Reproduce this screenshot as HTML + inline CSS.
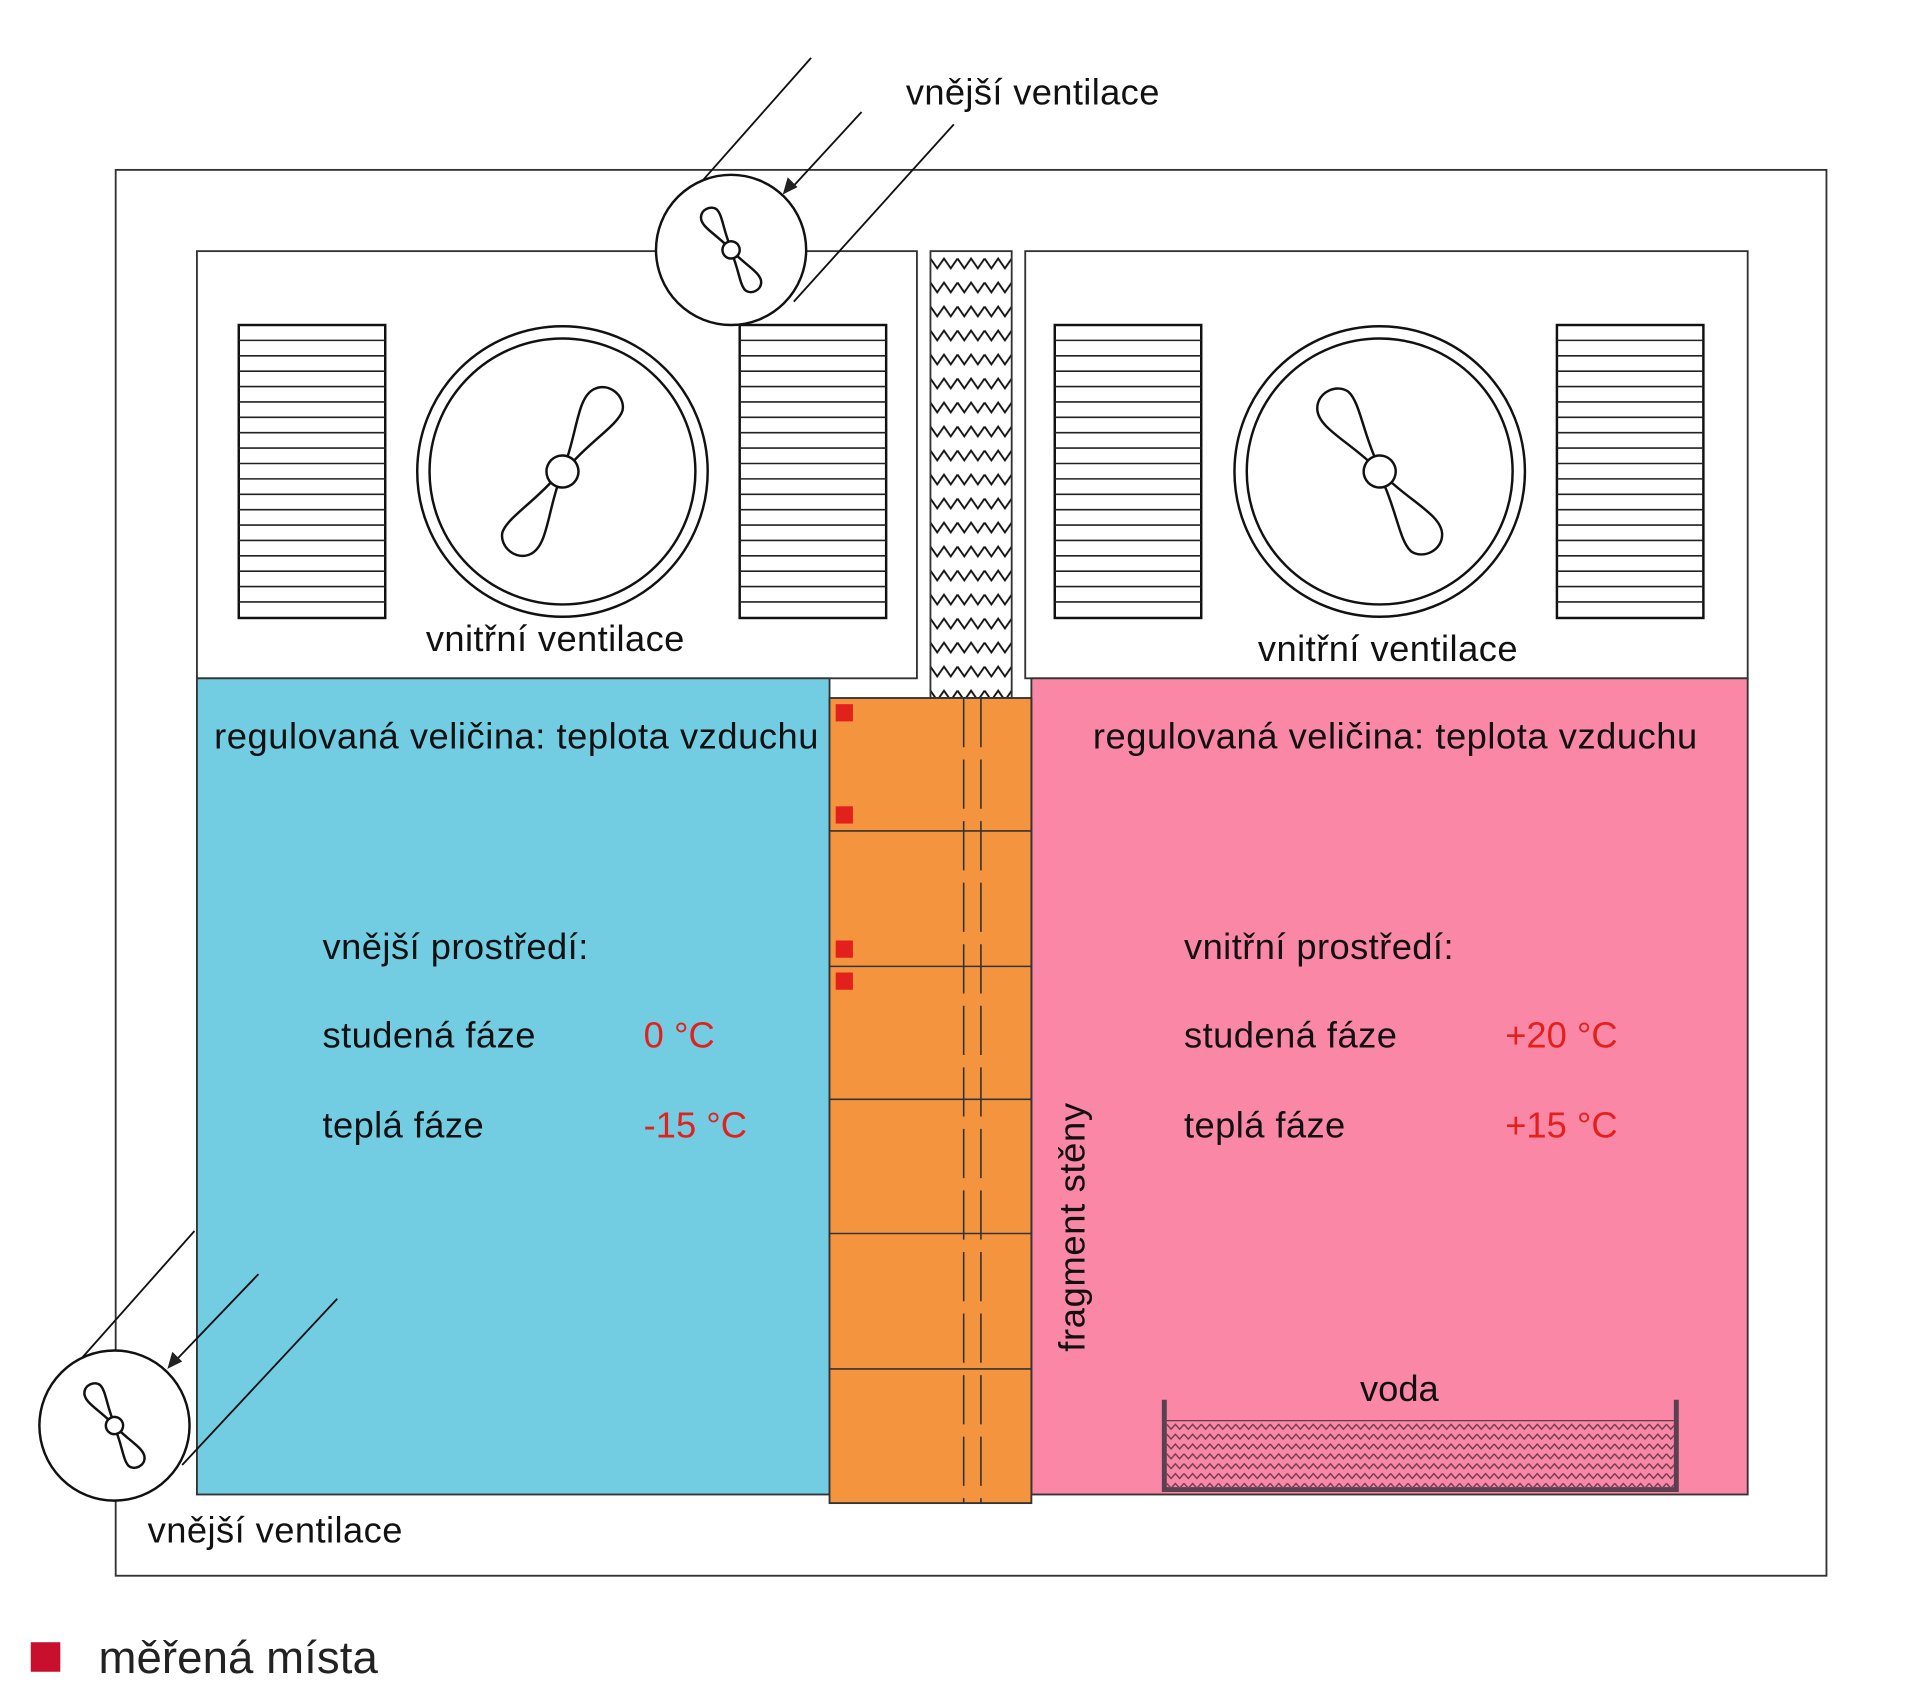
<!DOCTYPE html>
<html><head><meta charset="utf-8"><style>
html,body{margin:0;padding:0;background:#fff}
svg{display:block}
text{font-family:"Liberation Sans",sans-serif}
</style></head><body>
<svg width="1920" height="1689" viewBox="0 0 1560 1372" preserveAspectRatio="none" xmlns="http://www.w3.org/2000/svg">
<defs>
<pattern id="zz" x="756" y="204" width="22" height="19.5" patternUnits="userSpaceOnUse">
<path d="M0,6 L5.5,14 L11,6 L16.5,14 L22,6" fill="none" stroke="#111" stroke-width="1.5"/>
</pattern>
<pattern id="wz" x="948" y="1155" width="14" height="8" patternUnits="userSpaceOnUse">
<path d="M0,2 L3.5,6 L7,2 L10.5,6 L14,2" fill="none" stroke="#6a3a4a" stroke-width="1.1"/>
</pattern>
<path id="blade" d="M-3,-12 C-10,-38 -22,-58 -15,-70 C-8,-82 10,-79 14,-68 C17,-57 7,-36 3,-12 Z" fill="#fff" stroke="#111" stroke-width="2"/>
<path id="sblade" d="M-1.5,-6 C-5,-19 -11,-29 -7.5,-35 C-4,-41 5,-39.5 7,-34 C8.5,-28.5 3.5,-18 1.5,-6 Z" fill="#fff" stroke="#111" stroke-width="2"/>
<g id="lv">
<rect x="0" y="0" width="119" height="238" fill="#fff" stroke="#111" stroke-width="2"/>
<path d="M0,12.5H119M0,25H119M0,37.5H119M0,50H119M0,62.5H119M0,75H119M0,87.5H119M0,100H119M0,112.5H119M0,125H119M0,137.5H119M0,150H119M0,162.5H119M0,175H119M0,187.5H119M0,200H119M0,212.5H119M0,225H119" stroke="#222" stroke-width="1.3"/>
</g>
</defs>
<rect x="94" y="138" width="1390" height="1142" fill="#fff" stroke="#333" stroke-width="1.5"/>
<rect x="160" y="204" width="585" height="347" fill="#fff" stroke="#333" stroke-width="1.5"/>
<rect x="833" y="204" width="587" height="347" fill="#fff" stroke="#333" stroke-width="1.5"/>
<rect x="756" y="204" width="66" height="363" fill="url(#zz)" stroke="#333" stroke-width="1.5"/>
<rect x="160" y="551" width="514" height="663" fill="#72cde3" stroke="#333" stroke-width="1.5"/>
<rect x="838" y="551" width="582" height="663" fill="#f987a5" stroke="#333" stroke-width="1.5"/>
<rect x="674" y="567" width="164" height="654" fill="#f5943f" stroke="#333" stroke-width="1.5"/>
<path d="M674,675H838M674,785H838M674,893H838M674,1002H838M674,1112H838" stroke="#333" stroke-width="1.3"/>
<path d="M783,567V1221M797,567V1221" stroke="#333" stroke-width="1.3" stroke-dasharray="40,10"/>
<g fill="#e3211c"><rect x="679" y="572" width="14" height="14"/><rect x="679" y="655" width="14" height="14"/><rect x="679" y="764" width="14" height="14"/><rect x="679" y="790" width="14" height="14"/></g>
<use href="#lv" x="194" y="264"/><use href="#lv" x="601" y="264"/><use href="#lv" x="857" y="264"/><use href="#lv" x="1265" y="264"/>
<circle cx="457" cy="383" r="118" fill="#fff" stroke="#111" stroke-width="2"/>
<circle cx="457" cy="383" r="108" fill="none" stroke="#111" stroke-width="2"/>
<g transform="translate(457,383) rotate(33)"><use href="#blade"/><use href="#blade" transform="rotate(180)"/><circle r="13" fill="#fff" stroke="#111" stroke-width="2"/></g>
<circle cx="1121" cy="383" r="118" fill="#fff" stroke="#111" stroke-width="2"/>
<circle cx="1121" cy="383" r="108" fill="none" stroke="#111" stroke-width="2"/>
<g transform="translate(1121,383) rotate(-33)"><use href="#blade"/><use href="#blade" transform="rotate(180)"/><circle r="13" fill="#fff" stroke="#111" stroke-width="2"/></g>
<path d="M659,47L552,168M700,91L642,154M775,101L645,245" stroke="#111" stroke-width="1.5" fill="none"/>
<circle cx="594" cy="203" r="61" fill="#fff" stroke="#111" stroke-width="2"/>
<g transform="translate(594,203) rotate(-31)"><use href="#sblade"/><use href="#sblade" transform="rotate(180)"/><circle r="7" fill="#fff" stroke="#111" stroke-width="2"/></g>
<path d="M636,158l4,-14l8,8z" fill="#222"/>
<path d="M158,1000L64,1106M210,1035L142,1106M274,1055L148,1190" stroke="#111" stroke-width="1.5" fill="none"/>
<circle cx="93" cy="1158" r="61" fill="#fff" stroke="#111" stroke-width="2"/>
<g transform="translate(93,1158) rotate(-31)"><use href="#sblade"/><use href="#sblade" transform="rotate(180)"/><circle r="7" fill="#fff" stroke="#111" stroke-width="2"/></g>
<path d="M136,1112l4,-14l8,8z" fill="#222"/>
<rect x="948" y="1154" width="412" height="54" fill="url(#wz)"/>
<path d="M946,1137V1210H1362V1137" fill="none" stroke="#5a4050" stroke-width="4"/>
<line x1="948" y1="1154" x2="1360" y2="1154" stroke="#6a3a4a" stroke-width="1"/>
<g font-size="29.5" fill="#111">
<text x="736" y="85" textLength="206">vnější ventilace</text>
<text x="346" y="529" textLength="210">vnitřní ventilace</text>
<text x="1022" y="537" textLength="211">vnitřní ventilace</text>
<text x="174" y="608" textLength="491">regulovaná veličina: teplota vzduchu</text>
<text x="888" y="608" textLength="491">regulovaná veličina: teplota vzduchu</text>
<text x="262" y="779" textLength="216">vnější prostředí:</text>
<text x="262" y="851" textLength="173">studená fáze</text>
<text x="262" y="924" textLength="131">teplá fáze</text>
<text x="962" y="779" textLength="219">vnitřní prostředí:</text>
<text x="962" y="851" textLength="173">studená fáze</text>
<text x="962" y="924" textLength="131">teplá fáze</text>
<text x="1105" y="1138">voda</text>
<text x="120" y="1253" textLength="207">vnější ventilace</text>
<text transform="translate(881,1098) rotate(-90)" textLength="202">fragment stěny</text>
</g>
<g font-size="29.5" fill="#e3211c">
<text x="523" y="851">0 °C</text>
<text x="523" y="924">-15 °C</text>
<text x="1223" y="851">+20 °C</text>
<text x="1223" y="924">+15 °C</text>
</g>
<rect x="25" y="1334" width="24" height="24" fill="#c8102e"/>
<text x="80" y="1359" font-size="37" fill="#222" textLength="227">měřená místa</text>
</svg>
</body></html>
